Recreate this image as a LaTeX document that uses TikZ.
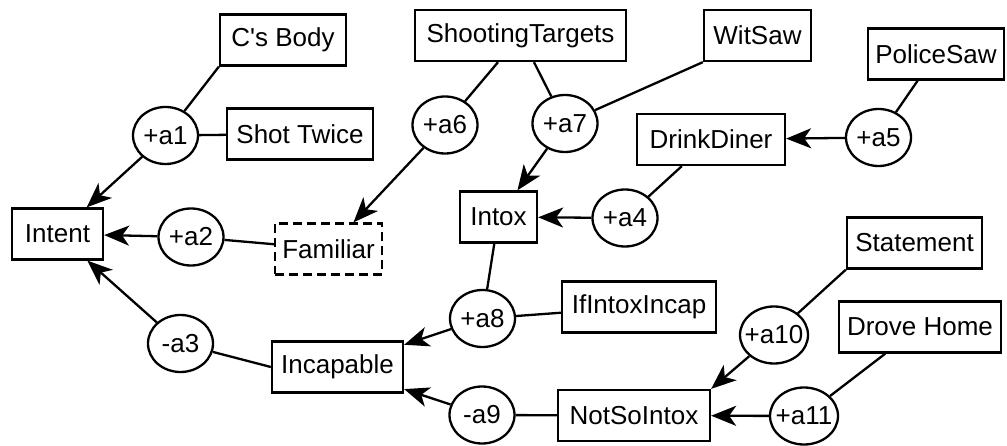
\documentclass[tikz,border=0pt]{standalone}
\usepackage{fontspec}
\setmainfont{Liberation Sans}[Ligatures=TeXOff]
\usetikzlibrary{shapes.geometric,arrows.meta}
\begin{document}
\begin{tikzpicture}[x=1pt,y=-1pt,
  line width=2.3pt,
  every node/.style={font=\fontsize{26}{30}\selectfont},
  factbox/.style={draw,rectangle,minimum height=51pt,inner sep=0pt},
  argnode/.style={draw,ellipse,minimum width=65pt,minimum height=57pt,inner sep=0pt},
  support/.style={-{Stealth[length=25pt,width=20pt,inset=7pt]}},
  link/.style={-}]
\useasboundingbox (0,0) rectangle (1007,446);

% statements
\node[factbox,minimum width=126pt] (cb) at (283,40) {C's Body};
\node[factbox,minimum width=146pt] (st) at (300,134) {Shot Twice};
\node[factbox,minimum width=91pt] (intent) at (57.5,234) {Intent};
\node[factbox,minimum width=107pt,dash pattern=on 9pt off 5pt] (fam) at (328.5,249) {Familiar};
\node[factbox,minimum width=211pt] (tgt) at (520.5,35.5) {ShootingTargets};
\node[factbox,minimum width=107pt] (ws) at (757.5,35.5) {WitSaw};
\node[factbox,minimum width=136pt] (ps) at (936,54) {PoliceSaw};
\node[factbox,minimum width=148pt] (dd) at (711,139.5) {DrinkDiner};
\node[factbox,minimum width=77pt] (intox) at (498.5,217) {Intox};
\node[factbox,minimum width=135pt] (stmt) at (914.5,243) {Statement};
\node[factbox,minimum width=154pt] (ifi) at (639,307) {IfIntoxIncap};
\node[factbox,minimum width=162pt] (dh) at (920,327) {Drove Home};
\node[factbox,minimum width=131pt] (inc) at (337.5,367) {Incapable};
\node[factbox,minimum width=152pt] (nsi) at (634,415.5) {NotSoIntox};

% arguments
\node[argnode] (a1) at (165.5,135.5) {\makebox[0pt]{+a1}};
\node[argnode] (a2) at (191,237) {\makebox[0pt]{+a2}};
\node[argnode] (a3) at (180.5,343.5) {\makebox[0pt]{-a3}};
\node[argnode] (a4) at (625,218) {\makebox[0pt]{+a4}};
\node[argnode] (a5) at (878.5,137.5) {\makebox[0pt]{+a5}};
\node[argnode] (a6) at (445,125) {\makebox[0pt]{+a6}};
\node[argnode] (a7) at (565,123.5) {\makebox[0pt]{+a7}};
\node[argnode] (a8) at (482.5,318.5) {\makebox[0pt]{+a8}};
\node[argnode] (a9) at (482,415) {\makebox[0pt]{-a9}};
\node[argnode,minimum width=68pt] (a10) at (774,335) {\makebox[0pt]{+a10}};
\node[argnode,minimum width=68pt] (a11) at (804,416) {\makebox[0pt]{+a11}};

% premises into arguments
\draw[link] (cb.south west) -- (a1);
\draw[link] (st) -- (a1);
\draw[link] (fam) -- (a2);
\draw[link] (inc.west) -- (a3);
\draw[link] (dd) -- (a4);
\draw[link] (ps) -- (a5);
\draw[link] (tgt) -- (a6);
\draw[link] (tgt) -- (a7);
\draw[link] (ws.south west) -- (a7);
\draw[link] (intox) -- (a8);
\draw[link] (ifi) -- (a8);
\draw[link] (nsi) -- (a9);
\draw[link] (stmt.south west) -- (a10);
\draw[link] (dh) -- (a11);

% arguments into conclusions
\draw[support] (a1) -- (intent);
\draw[support] (a2) -- (intent);
\draw[support] (a3) -- (intent);
\draw[support] (a4) -- (intox);
\draw[support] (a5) -- (dd);
\draw[support] (a6) -- (fam);
\draw[support] (a7) -- (intox);
\draw[support] (a8) -- (inc);
\draw[support] (a9) -- (inc);
\draw[support] (a10) -- (nsi.north east);
\draw[support] (a11) -- (nsi);
\end{tikzpicture}
\end{document}
